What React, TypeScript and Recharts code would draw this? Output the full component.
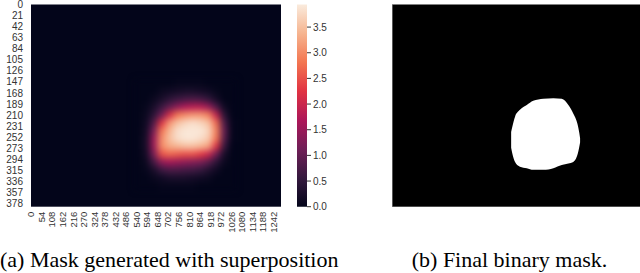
import {
  Area,
  AreaChart,
  Bar,
  BarChart,
  CartesianGrid,
  ReferenceLine,
  Scatter,
  ScatterChart,
  XAxis,
  YAxis,
} from "recharts";

// Image grid the heatmap was computed on (rows x cols).
const IMG_COLS = 1280;
const IMG_ROWS = 384;

const X_TICKS = [
  0, 54, 108, 162, 216, 270, 324, 378, 432, 486, 540, 594, 648, 702, 756, 810,
  864, 918, 972, 1026, 1080, 1134, 1188, 1242,
];
const Y_TICKS = [
  0, 21, 42, 63, 84, 105, 126, 147, 168, 189, 210, 231, 252, 273, 294, 315,
  336, 357, 378,
];
const CBAR_TICKS = [0, 0.5, 1, 1.5, 2, 2.5, 3, 3.5];
const VMAX = 3.94;

// Coarse samples of the superposed mask around the blob (everything else is 0).
const HEAT_COLS = [550, 590, 630, 670, 710, 750, 790, 830, 870, 910, 950, 990, 1030];
const HEAT_ROWS = [150, 165, 180, 195, 210, 225, 240, 255, 270, 285, 300, 315, 330, 345];
const HEAT_VALUES = [
  [0, 0, 0, 0, 0, 0.05, 0.05, 0.05, 0.05, 0, 0, 0, 0],
  [0, 0, 0, 0.1, 0.15, 0.2, 0.25, 0.25, 0.2, 0.15, 0.05, 0, 0],
  [0, 0, 0.1, 0.25, 0.45, 0.6, 0.7, 0.75, 0.7, 0.5, 0.2, 0, 0],
  [0, 0.05, 0.25, 0.6, 1.0, 1.4, 1.7, 1.8, 1.8, 1.5, 0.8, 0.15, 0],
  [0, 0.1, 0.45, 1.1, 2.1, 2.8, 3.0, 3.1, 3.1, 2.9, 1.9, 0.45, 0],
  [0, 0.15, 0.8, 2.2, 3.1, 3.5, 3.7, 3.8, 3.7, 3.5, 2.7, 0.8, 0.05],
  [0, 0.2, 1.2, 2.8, 3.4, 3.8, 3.9, 3.9, 3.9, 3.7, 2.9, 1.0, 0.05],
  [0, 0.25, 1.5, 3.0, 3.5, 3.8, 3.9, 3.9, 3.8, 3.6, 2.8, 0.9, 0.05],
  [0, 0.25, 1.5, 3.0, 3.3, 3.4, 3.5, 3.5, 3.4, 3.2, 2.2, 0.6, 0],
  [0, 0.2, 1.2, 2.5, 2.7, 2.6, 2.5, 2.5, 2.3, 2.0, 1.1, 0.25, 0],
  [0, 0.1, 0.7, 1.4, 1.6, 1.5, 1.4, 1.3, 1.2, 0.9, 0.45, 0.1, 0],
  [0, 0.05, 0.25, 0.6, 0.75, 0.75, 0.7, 0.65, 0.55, 0.35, 0.15, 0, 0],
  [0, 0, 0.08, 0.15, 0.25, 0.25, 0.25, 0.2, 0.15, 0.1, 0, 0, 0],
  [0, 0, 0, 0.05, 0.05, 0.05, 0.05, 0.05, 0, 0, 0, 0, 0],
];

// Final binary mask outline: per column, top and bottom row of the white blob.
const BLOB_COLS = [610, 616, 630, 655, 690, 723, 775, 826, 869, 903, 928, 949, 959, 963];
const BLOB_TOP = [242, 232, 213, 200, 191, 183, 179, 178, 179, 191, 207, 226, 244, 254];
const BLOB_BOTTOM = [272, 283, 299, 308, 311, 314, 314, 311, 305, 302, 299, 286, 270, 262];

// seaborn "rocket" colormap, sampled.
const ROCKET: [number, string][] = [
  [0, "#03051a"],
  [1 / 7, "#35193e"],
  [2 / 7, "#701f57"],
  [3 / 7, "#ad1759"],
  [4 / 7, "#e13342"],
  [5 / 7, "#f37651"],
  [6 / 7, "#f6b48f"],
  [1, "#faebdd"],
];

const hex = (c: string) => [1, 3, 5].map((i) => parseInt(c.slice(i, i + 2), 16));

function rocket(t: number) {
  const u = Math.max(0, Math.min(1, t));
  for (let i = 1; i < ROCKET.length; i++) {
    const [p1, c1] = ROCKET[i];
    if (u <= p1) {
      const [p0, c0] = ROCKET[i - 1];
      const f = (u - p0) / (p1 - p0);
      const a = hex(c0);
      const b = hex(c1);
      return `rgb(${a.map((v, k) => Math.round(v + (b[k] - v) * f)).join(",")})`;
    }
  }
  return ROCKET[ROCKET.length - 1][1];
}

const heatCells = HEAT_ROWS.flatMap((row, i) =>
  HEAT_COLS.map((col, j) => ({ col, row, v: HEAT_VALUES[i][j] }))
);
const blobData = BLOB_COLS.map((col, i) => ({ col, edge: [BLOB_TOP[i], BLOB_BOTTOM[i]] }));

const CELL_W = 8.4;
const CELL_H = 8.5;
const AXIS_TEXT = "#333";
const SERIF = "'Liberation Serif', 'Times New Roman', serif";

const HeatCell = (props: any) => {
  const { cx, cy, payload } = props;
  return (
    <rect
      x={cx - CELL_W / 2}
      y={cy - CELL_H / 2}
      width={CELL_W}
      height={CELL_H}
      fill={rocket(payload.v / VMAX)}
    />
  );
};

const XTick = ({ x, y, payload }: any) => (
  <text
    x={x}
    y={y}
    transform={`rotate(-90, ${x}, ${y})`}
    textAnchor="end"
    dy="0.35em"
    fontSize={9.5}
    fill={AXIS_TEXT}
  >
    {payload.value}
  </text>
);

export default function App() {
  return (
    <div
      style={{
        position: "absolute",
        left: 0,
        top: 0,
        width: 640,
        height: 273,
        overflow: "hidden",
        background: "#fff",
        fontFamily: "'Liberation Sans', Arial, sans-serif",
      }}
    >
      <style>{".heat-cells { filter: url(#heatBlur); }"}</style>
      <svg width={0} height={0} style={{ position: "absolute" }}>
        <defs>
          <filter
            id="heatBlur"
            x="-30%"
            y="-30%"
            width="160%"
            height="160%"
            colorInterpolationFilters="sRGB"
          >
            <feGaussianBlur stdDeviation={3.2} />
          </filter>
          <linearGradient id="rocketGrad" x1="0" y1="1" x2="0" y2="0">
            {ROCKET.map(([p, c]) => (
              <stop key={p} offset={p} stopColor={c} />
            ))}
          </linearGradient>
        </defs>
      </svg>

      {/* (a) superposed mask heatmap */}
      <div style={{ position: "absolute", left: 0, top: 0 }}>
        <ScatterChart width={285} height={245} margin={{ top: 4.5, right: 4, bottom: 0, left: 0 }}>
          <CartesianGrid fill="#03051a" fillOpacity={1} horizontal={false} vertical={false} />
          <XAxis
            type="number"
            dataKey="col"
            domain={[0, IMG_COLS]}
            ticks={X_TICKS}
            interval={0}
            height={38.3}
            axisLine={false}
            tickLine={false}
            tickSize={4}
            tickMargin={1}
            tick={<XTick />}
            allowDataOverflow
          />
          <YAxis
            type="number"
            dataKey="row"
            domain={[0, IMG_ROWS]}
            reversed
            ticks={Y_TICKS}
            interval={0}
            width={31}
            axisLine={false}
            tickLine={false}
            tick={{ fontSize: 10, fill: AXIS_TEXT }}
            allowDataOverflow
          />
          <Scatter
            className="heat-cells"
            data={heatCells}
            shape={<HeatCell />}
            isAnimationActive={false}
          />
        </ScatterChart>
      </div>

      {/* colour bar */}
      <div style={{ position: "absolute", left: 297, top: 0 }}>
        <BarChart
          width={45}
          height={245}
          data={[{ name: "cbar", v: VMAX }]}
          margin={{ top: 4.5, right: 0, bottom: 38.3, left: 0 }}
          barCategoryGap={0}
        >
          <XAxis dataKey="name" hide />
          <YAxis
            orientation="right"
            width={35}
            domain={[0, VMAX]}
            ticks={CBAR_TICKS}
            interval={0}
            tickFormatter={(v: number) => v.toFixed(1)}
            axisLine={false}
            tickSize={4}
            tickMargin={2}
            tickLine={{ stroke: AXIS_TEXT }}
            tick={{ fontSize: 10, fill: AXIS_TEXT }}
          />
          <Bar dataKey="v" fill="url(#rocketGrad)" isAnimationActive={false} />
        </BarChart>
      </div>

      {/* (b) final binary mask */}
      <div style={{ position: "absolute", left: 392, top: 0 }}>
        <AreaChart
          width={254}
          height={245}
          data={blobData}
          margin={{ top: 4.5, right: 4, bottom: 38.3, left: 0 }}
        >
          <CartesianGrid fill="#000" fillOpacity={1} horizontal={false} vertical={false} />
          <XAxis type="number" dataKey="col" domain={[0, IMG_COLS]} hide />
          <YAxis type="number" domain={[0, IMG_ROWS]} reversed hide />
          <ReferenceLine x={0} stroke="#b0b0b0" strokeWidth={1} />
          <Area
            type="monotone"
            dataKey="edge"
            fill="#fff"
            fillOpacity={1}
            stroke="none"
            isAnimationActive={false}
          />
        </AreaChart>
      </div>

      <svg
        width={640}
        height={273}
        style={{ position: "absolute", left: 0, top: 0, pointerEvents: "none" }}
      >
        <text x={0} y={267} textAnchor="start" fontFamily={SERIF} fontSize={22} fill="#000">
          (a) Mask generated with superposition
        </text>
        <text x={509.5} y={267} textAnchor="middle" fontFamily={SERIF} fontSize={22} fill="#000">
          (b) Final binary mask.
        </text>
      </svg>
    </div>
  );
}
